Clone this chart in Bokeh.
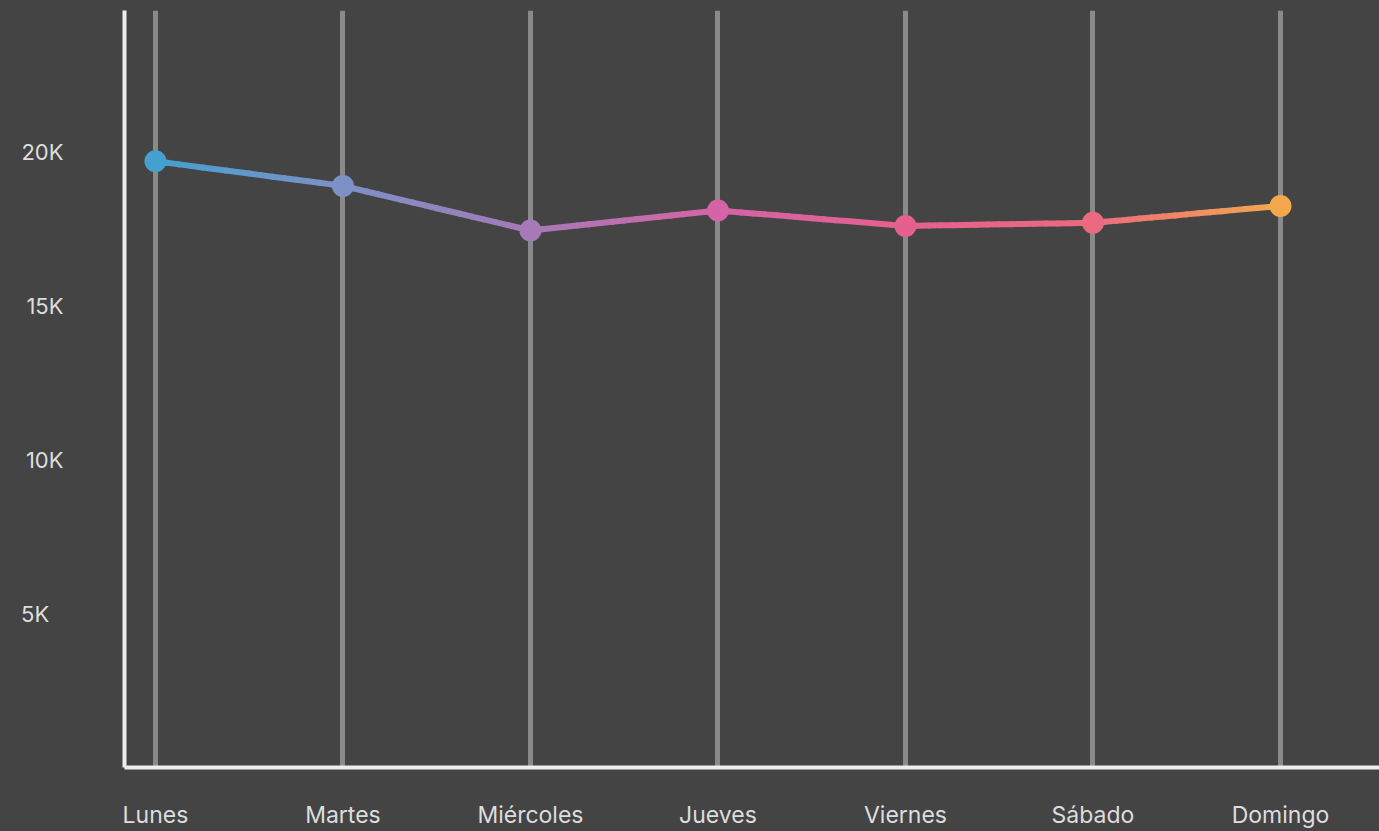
from bokeh.plotting import figure
from bokeh.models import Range1d, FixedTicker
from bokeh.embed import file_html
from bokeh.resources import INLINE

# Weekly visits by day
days = ["Lunes", "Martes", "Miércoles", "Jueves", "Viernes", "Sábado", "Domingo"]
visits = [19700, 18900, 17450, 18100, 17600, 17700, 18250]
point_colors = ["#43a0cf", "#7d91c6", "#a57ab6", "#d564a6", "#e4608f", "#ec6a7f", "#f2a84c"]
y_ticks = [5000, 10000, 15000, 20000]
# figure space keeps the short label's left edge in line with the others
y_tick_labels = ["5K\u2007", "10K", "15K", "20K"]

BG = "#444444"
LABEL_COLOR = "#dddddd"
FONT = "Inter"
xs = list(range(len(days)))

p = figure(width=1379, height=831, output_backend="svg", toolbar_location=None,
           x_range=Range1d(-0.165, 6.528), y_range=Range1d(0, 24600),
           min_border_left=124, min_border_right=0, min_border_top=10, min_border_bottom=61)
p.background_fill_color = BG
p.border_fill_color = BG
p.outline_line_color = None
p.styles = {"background-color": BG}

# Vertical guide per day
p.xgrid.ticker = FixedTicker(ticks=xs)
p.xgrid.grid_line_color = "#8a8a8a"
p.xgrid.grid_line_width = 5
p.ygrid.grid_line_color = None

# Axes
p.xaxis.ticker = FixedTicker(ticks=xs)
p.xaxis.major_label_overrides = {i: d for i, d in enumerate(days)}
p.yaxis.ticker = FixedTicker(ticks=y_ticks)
p.yaxis.major_label_overrides = {t: l for t, l in zip(y_ticks, y_tick_labels)}
for ax in (p.xaxis, p.yaxis):
    ax.axis_line_color = "#eeeeee"
    ax.axis_line_width = 4
    ax.major_tick_line_color = None
    ax.minor_tick_line_color = None
    ax.major_label_text_font = FONT
    ax.major_label_text_color = LABEL_COLOR
p.xaxis.major_label_text_font_size = "23px"
p.xaxis.major_label_standoff = 27
p.yaxis.major_label_text_font_size = "22px"
p.yaxis.major_label_standoff = 55


def hex_to_rgb(h):
    h = h.lstrip("#")
    return tuple(int(h[i:i + 2], 16) for i in (0, 2, 4))


def blend(c0, c1, t):
    a, b = hex_to_rgb(c0), hex_to_rgb(c1)
    return "#%02x%02x%02x" % tuple(round(a[k] + (b[k] - a[k]) * t) for k in range(3))


# Gradient-coloured line: each span between days drawn as short colour steps
steps = 16
x0s, y0s, x1s, y1s, cols = [], [], [], [], []
for i in range(len(days) - 1):
    for s in range(steps):
        t0, t1 = s / steps, (s + 1) / steps
        x0s.append(xs[i] + (xs[i + 1] - xs[i]) * t0)
        x1s.append(xs[i] + (xs[i + 1] - xs[i]) * t1)
        y0s.append(visits[i] + (visits[i + 1] - visits[i]) * t0)
        y1s.append(visits[i] + (visits[i + 1] - visits[i]) * t1)
        cols.append(blend(point_colors[i], point_colors[i + 1], (t0 + t1) / 2))
p.segment(x0=x0s, y0=y0s, x1=x1s, y1=y1s, line_color=cols, line_width=6, line_cap="round")

p.scatter(x=xs, y=visits, size=22, fill_color=point_colors, line_color=None)

open("out.html", "w").write(file_html(p, INLINE))
